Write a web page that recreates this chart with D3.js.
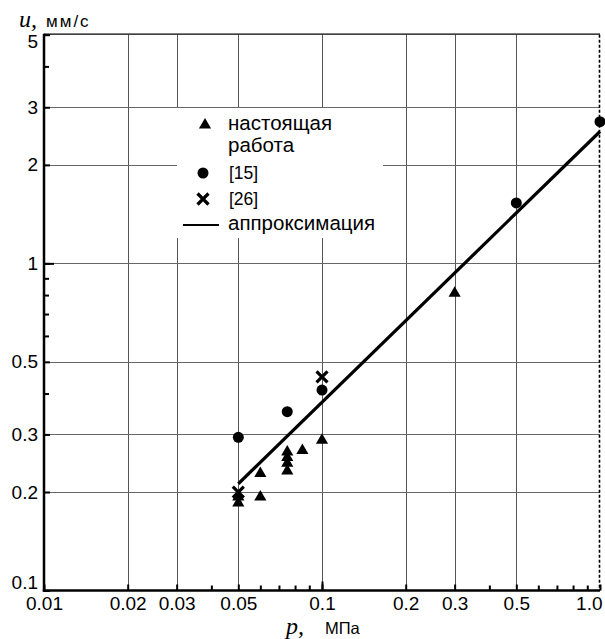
<!DOCTYPE html>
<html>
<head>
<meta charset="utf-8">
<script src="https://cdn.jsdelivr.net/npm/d3@7"></script>
<style>
  body { margin: 0; background: #fff; }
  svg { display: block; font-family: "Liberation Sans", Arial, sans-serif; }
  .axis path { display: none; }
  .axis line { stroke: #000; stroke-width: 2; }
  .axis text { font-size: 19px; fill: #000; }
</style>
</head>
<body>
<div id="chart"></div>
<script>
// tick values and labels
var xTickVals = [0.01, 0.02, 0.03, 0.05, 0.1, 0.2, 0.3, 0.5, 1.0];
var xTickLabels = ["0.01", "0.02", "0.03", "0.05", "0.1", "0.2", "0.3", "0.5", "1.0"];
var xMinor = [0.04, 0.06, 0.07, 0.08, 0.09, 0.4, 0.6, 0.7, 0.8, 0.9];
var xGrid = [0.02, 0.03, 0.05, 0.1, 0.2, 0.3, 0.5];
var xDecade = [0.1];

var yTickVals = [0.1, 0.2, 0.3, 0.5, 1, 2, 3, 5];
var yTickLabels = ["0.1", "0.2", "0.3", "0.5", "1", "2", "3", "5"];
var yMinor = [0.4, 0.6, 0.7, 0.8, 0.9, 4];
var yGrid = [0.2, 0.3, 0.5, 1, 2, 3];
var yDecade = [1];

// series: triangles = this work, circles = [15], crosses = [26]
var triP = [0.05, 0.05, 0.06, 0.06, 0.075, 0.075, 0.075, 0.075, 0.085, 0.1, 0.3];
var triU = [0.185, 0.193, 0.193, 0.228, 0.265, 0.255, 0.245, 0.232, 0.268, 0.288, 0.81];
var circP = [0.05, 0.075, 0.1, 0.5, 1.0];
var circU = [0.294, 0.352, 0.41, 1.53, 2.71];
var crossP = [0.05, 0.1];
var crossU = [0.2, 0.45];
// approximation line
var fitP = [0.05, 1.0];
var fitU = [0.212, 2.53];

var legendItems = ["настоящая", "работа", "[15]", "[26]", "аппроксимация"];

var width = 605, height = 639;
var x0 = 44, x1 = 600, yTop = 34.7, yBot = 590.5;

var svg = d3.select("#chart").append("svg")
    .attr("width", width)
    .attr("height", height);

var x = d3.scaleLog().domain([0.01, 1.0]).range([x0, x1]);
var y = d3.scaleLog().domain([0.1, 5]).range([yBot, yTop]);

// grid lines
svg.append("g").selectAll("line")
    .data(xGrid)
  .enter().append("line")
    .attr("x1", function(d) { return Math.round(x(d)) + 0.5; })
    .attr("x2", function(d) { return Math.round(x(d)) + 0.5; })
    .attr("y1", yTop)
    .attr("y2", yBot)
    .style("stroke", "#555")
    .style("stroke-width", 1);

svg.append("g").selectAll("line")
    .data(yGrid)
  .enter().append("line")
    .attr("x1", x0)
    .attr("x2", x1)
    .attr("y1", function(d) { return Math.round(y(d)) + 0.5; })
    .attr("y2", function(d) { return Math.round(y(d)) + 0.5; })
    .style("stroke", "#666")
    .style("stroke-width", 1.2);

// top border and dashed right border
svg.append("line")
    .attr("x1", x0).attr("x2", x1)
    .attr("y1", yTop - 0.5).attr("y2", yTop - 0.5)
    .style("stroke", "#000").style("stroke-width", 1.2);
svg.append("line")
    .attr("x1", x1 - 0.5).attr("x2", x1 - 0.5)
    .attr("y1", yTop).attr("y2", yBot)
    .style("stroke", "#000").style("stroke-width", 1.6)
    .style("stroke-dasharray", "3,2");

// legend background hides grid
svg.append("rect")
    .attr("x", 177).attr("y", 108)
    .attr("width", 206).attr("height", 130)
    .style("fill", "#fff");

// x axis
var xAxis = d3.axisBottom(x)
    .tickValues(xTickVals)
    .tickFormat(function(d, i) { return xTickLabels[i]; })
    .tickSizeInner(-6).tickSizeOuter(0).tickPadding(6);
var gx = svg.append("g")
    .attr("class", "axis")
    .attr("transform", "translate(0," + yBot + ")")
    .call(xAxis);
gx.selectAll(".tick text").filter(function(d) { return d === 1.0; })
    .attr("text-anchor", "end").attr("x", 2);

svg.append("g").attr("class", "axis")
    .attr("transform", "translate(0," + yBot + ")")
    .call(d3.axisBottom(x).tickValues(xMinor).tickFormat("").tickSizeInner(-5).tickSizeOuter(0));
svg.append("g").attr("class", "axis")
    .attr("transform", "translate(0," + yBot + ")")
    .call(d3.axisBottom(x).tickValues(xDecade).tickFormat("").tickSizeInner(-9).tickSizeOuter(0));

// y axis
var yAxis = d3.axisLeft(y)
    .tickValues(yTickVals)
    .tickFormat(function(d, i) { return yTickLabels[i]; })
    .tickSizeInner(-6).tickSizeOuter(0).tickPadding(6);
var gy = svg.append("g")
    .attr("class", "axis")
    .attr("transform", "translate(" + x0 + ",0)")
    .call(yAxis);
gy.selectAll(".tick text").filter(function(d) { return d === 5; })
    .attr("y", 7);
gy.selectAll(".tick text").filter(function(d) { return d === 0.1; })
    .attr("y", -8);

svg.append("g").attr("class", "axis")
    .attr("transform", "translate(" + x0 + ",0)")
    .call(d3.axisLeft(y).tickValues(yMinor).tickFormat("").tickSizeInner(-5).tickSizeOuter(0));
svg.append("g").attr("class", "axis")
    .attr("transform", "translate(" + x0 + ",0)")
    .call(d3.axisLeft(y).tickValues(yDecade).tickFormat("").tickSizeInner(-10).tickSizeOuter(0));

// axis lines (thick)
svg.append("line")
    .attr("x1", x0).attr("x2", x0)
    .attr("y1", yTop - 1).attr("y2", yBot + 1.2)
    .style("stroke", "#000").style("stroke-width", 2.5);
svg.append("line")
    .attr("x1", x0 - 1.2).attr("x2", x1)
    .attr("y1", yBot).attr("y2", yBot)
    .style("stroke", "#000").style("stroke-width", 2.5);

// axis titles
var yTitle = svg.append("text").attr("x", 19).attr("y", 27);
yTitle.append("tspan")
    .style("font-family", "'Liberation Serif', serif")
    .style("font-style", "italic")
    .style("font-size", "24px")
    .text("u,");
yTitle.append("tspan")
    .attr("x", 46)
    .style("font-size", "17px")
    .style("letter-spacing", "2px")
    .text("мм/с");

var xTitle = svg.append("text").attr("x", 286).attr("y", 634);
xTitle.append("tspan")
    .style("font-family", "'Liberation Serif', serif")
    .style("font-style", "italic")
    .style("font-size", "24px")
    .text("p,");
xTitle.append("tspan")
    .attr("x", 325)
    .style("font-size", "16.5px")
    .text("МПа");

// fit line
var line = d3.line()
    .x(function(d) { return x(d[0]); })
    .y(function(d) { return y(d[1]); });
svg.append("path")
    .datum(d3.zip(fitP, fitU))
    .attr("d", line)
    .style("fill", "none")
    .style("stroke", "#000")
    .style("stroke-width", 3.2);

// markers
var triangle = d3.symbol().type(d3.symbolTriangle).size(64);
var circle = d3.symbol().type(d3.symbolCircle).size(95);
var crossPath = "M-5.5,-5.5L5.5,5.5M-5.5,5.5L5.5,-5.5";

svg.append("g").selectAll("path")
    .data(d3.zip(triP, triU))
  .enter().append("path")
    .attr("d", triangle)
    .attr("transform", function(d) { return "translate(" + x(d[0]) + "," + y(d[1]) + ")"; })
    .style("fill", "#000");

svg.append("g").selectAll("path")
    .data(d3.zip(circP, circU))
  .enter().append("path")
    .attr("d", circle)
    .attr("transform", function(d) { return "translate(" + x(d[0]) + "," + y(d[1]) + ")"; })
    .style("fill", "#000");

svg.append("g").selectAll("path")
    .data(d3.zip(crossP, crossU))
  .enter().append("path")
    .attr("d", crossPath)
    .attr("transform", function(d) { return "translate(" + x(d[0]) + "," + y(d[1]) + ")"; })
    .style("fill", "none")
    .style("stroke", "#000")
    .style("stroke-width", 3.2);

// legend
var legend = svg.append("g").style("font-size", "20.5px");
legend.append("path").attr("d", triangle).attr("transform", "translate(205,125)").style("fill", "#000");
legend.append("path").attr("d", circle).attr("transform", "translate(203,173)").style("fill", "#000");
legend.append("path").attr("d", crossPath).attr("transform", "translate(203,199)")
    .style("fill", "none").style("stroke", "#000").style("stroke-width", 3.2);
legend.append("line")
    .attr("x1", 183).attr("x2", 219).attr("y1", 225).attr("y2", 225)
    .style("stroke", "#000").style("stroke-width", 1.8);

legend.append("text").attr("x", 228).attr("y", 130).text(legendItems[0]);
legend.append("text").attr("x", 228).attr("y", 152).text(legendItems[1]);
legend.append("text").attr("x", 229).attr("y", 178.5).style("font-size", "17.5px").text(legendItems[2]);
legend.append("text").attr("x", 229).attr("y", 205).style("font-size", "17.5px").text(legendItems[3]);
legend.append("text").attr("x", 228).attr("y", 230).text(legendItems[4]);
</script>
</body>
</html>
